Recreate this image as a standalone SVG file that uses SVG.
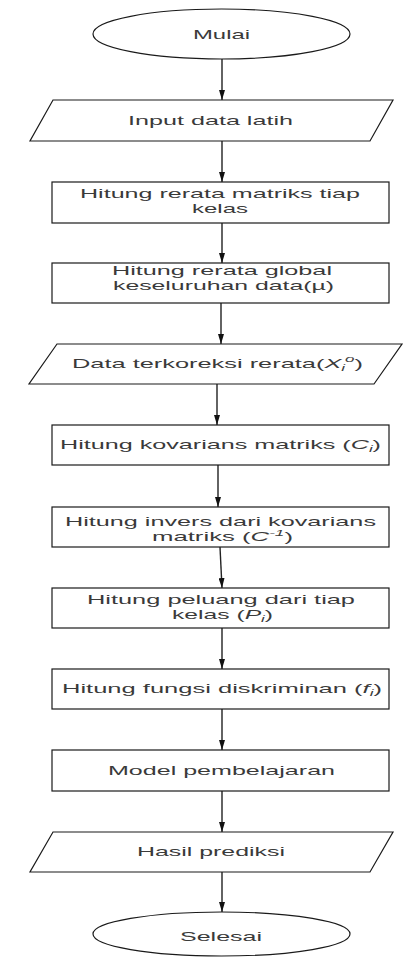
<svg xmlns="http://www.w3.org/2000/svg" width="412" height="957" viewBox="0 0 412 957">
<style>
.s{fill:#fff;stroke:#1a1a1a;stroke-width:1.2}
.t{font-family:"Liberation Sans",Arial,sans-serif;font-size:13.5px;fill:#3a3a3a}
.c{stroke:#222;stroke-width:1.4;fill:none}
.i{font-style:italic}
.sb{font-size:9px}
</style>
<defs>
<marker id="ah" viewBox="0 0 10 6" refX="10" refY="3" markerWidth="10" markerHeight="6" markerUnits="userSpaceOnUse" orient="auto">
<path d="M0,0 L10,3 L0,6 z" fill="#111"/>
</marker>
</defs>
<rect width="412" height="957" fill="#fff"/>
<g id="connectors">
<line class="c" x1="222" y1="59" x2="222" y2="100" marker-end="url(#ah)"/>
<line class="c" x1="222" y1="141" x2="222" y2="182" marker-end="url(#ah)"/>
<line class="c" x1="222" y1="223" x2="222" y2="263" marker-end="url(#ah)"/>
<line class="c" x1="221" y1="303" x2="221" y2="344" marker-end="url(#ah)"/>
<line class="c" x1="217" y1="384" x2="217" y2="425" marker-end="url(#ah)"/>
<line class="c" x1="218" y1="465" x2="218" y2="507" marker-end="url(#ah)"/>
<line class="c" x1="220" y1="547" x2="222" y2="588" marker-end="url(#ah)"/>
<line class="c" x1="222" y1="628" x2="222" y2="669" marker-end="url(#ah)"/>
<line class="c" x1="222" y1="709" x2="222" y2="750" marker-end="url(#ah)"/>
<line class="c" x1="222" y1="791" x2="222" y2="832" marker-end="url(#ah)"/>
<line class="c" x1="222" y1="872" x2="222" y2="912" marker-end="url(#ah)"/>
</g>
<g id="mulai">
<ellipse class="s" cx="221.5" cy="34" rx="128.5" ry="25"/>
<text class="t" x="193" y="39" textLength="57" lengthAdjust="spacingAndGlyphs">Mulai</text>
</g>
<g id="input">
<polygon class="s" points="53,100 393,100 370,141 30,141"/>
<text class="t" x="128" y="125" textLength="165" lengthAdjust="spacingAndGlyphs">Input data latih</text>
</g>
<g id="rerata-kelas">
<rect class="s" x="52" y="182" width="337" height="41"/>
<text class="t" x="80" y="197.5" textLength="280" lengthAdjust="spacingAndGlyphs">Hitung rerata matriks tiap</text>
<text class="t" x="192" y="213" textLength="56" lengthAdjust="spacingAndGlyphs">kelas</text>
</g>
<g id="rerata-global">
<rect class="s" x="52" y="263" width="337" height="40"/>
<text class="t" x="112" y="274.5" textLength="220" lengthAdjust="spacingAndGlyphs">Hitung rerata global</text>
<text class="t" x="113" y="290" textLength="221" lengthAdjust="spacingAndGlyphs">keseluruhan data(µ)</text>
</g>
<g id="terkoreksi">
<polygon class="s" points="57,344 402,344 374,384 29,384"/>
<text class="t" x="72" y="368" textLength="291" lengthAdjust="spacingAndGlyphs">Data terkoreksi rerata(<tspan class="i">X</tspan><tspan class="i sb" dy="3">i</tspan><tspan class="i sb" dy="-9">o</tspan><tspan dy="6">)</tspan></text>
</g>
<g id="kovarians">
<rect class="s" x="52" y="425" width="337" height="40"/>
<text class="t" x="60" y="449" textLength="321" lengthAdjust="spacingAndGlyphs">Hitung kovarians matriks (<tspan class="i">C</tspan><tspan class="i sb" dy="3">i</tspan><tspan dy="-3">)</tspan></text>
</g>
<g id="invers">
<rect class="s" x="52" y="507" width="337" height="40"/>
<text class="t" x="65" y="525.5" textLength="311" lengthAdjust="spacingAndGlyphs">Hitung invers dari kovarians</text>
<text class="t" x="152" y="541" textLength="141" lengthAdjust="spacingAndGlyphs">matriks (<tspan class="i">C</tspan><tspan class="i sb" dy="-5">-1</tspan><tspan dy="5">)</tspan></text>
</g>
<g id="peluang">
<rect class="s" x="52" y="588" width="337" height="40"/>
<text class="t" x="87" y="603.5" textLength="268" lengthAdjust="spacingAndGlyphs">Hitung peluang dari tiap</text>
<text class="t" x="172" y="619" textLength="101" lengthAdjust="spacingAndGlyphs">kelas (<tspan class="i">P</tspan><tspan class="i sb" dy="3">i</tspan><tspan dy="-3">)</tspan></text>
</g>
<g id="diskriminan">
<rect class="s" x="52" y="669" width="337" height="40"/>
<text class="t" x="62" y="693" textLength="320" lengthAdjust="spacingAndGlyphs">Hitung fungsi diskriminan (<tspan class="i">f</tspan><tspan class="i sb" dy="3">i</tspan><tspan dy="-3">)</tspan></text>
</g>
<g id="model">
<rect class="s" x="52" y="750" width="337" height="41"/>
<text class="t" x="108" y="775" textLength="227" lengthAdjust="spacingAndGlyphs">Model pembelajaran</text>
</g>
<g id="hasil">
<polygon class="s" points="53,832 393,832 370,872 30,872"/>
<text class="t" x="137" y="856" textLength="148" lengthAdjust="spacingAndGlyphs">Hasil prediksi</text>
</g>
<g id="selesai">
<ellipse class="s" cx="221.5" cy="934" rx="128.5" ry="22"/>
<text class="t" x="180" y="941" textLength="82" lengthAdjust="spacingAndGlyphs">Selesai</text>
</g>
</svg>
